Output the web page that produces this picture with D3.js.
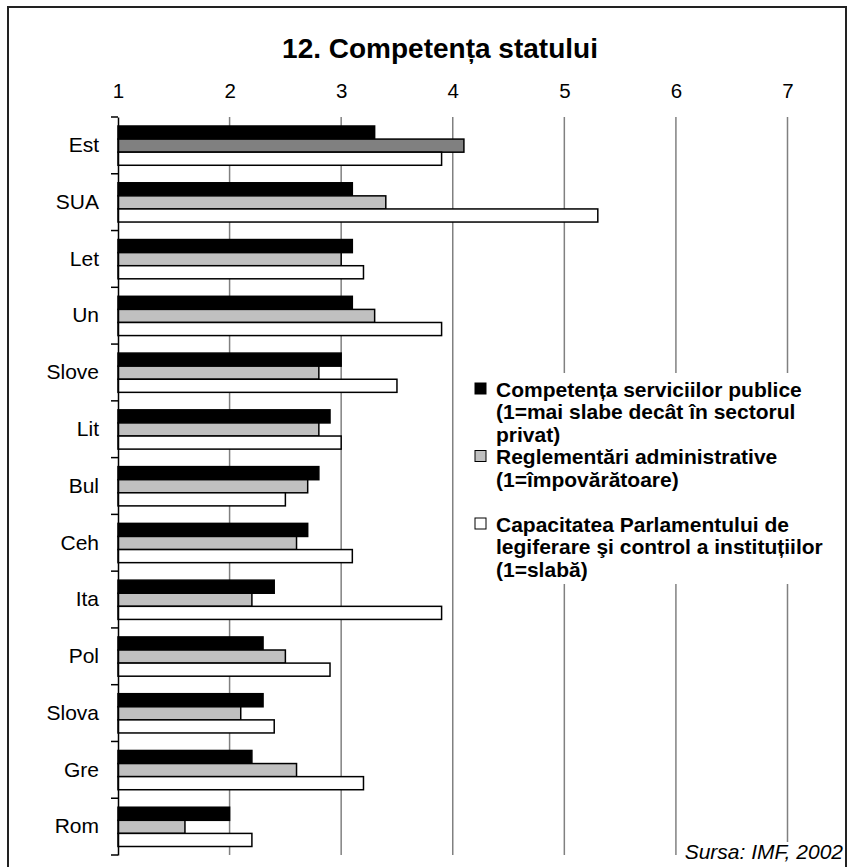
<!DOCTYPE html>
<html>
<head>
<meta charset="utf-8">
<script src="https://cdn.jsdelivr.net/npm/d3@7"></script>
<style>
  html, body { margin: 0; padding: 0; background: #fff; }
  svg { display: block; font-family: "Liberation Sans", Arial, sans-serif; }
</style>
</head>
<body>
<svg id="chart" width="849" height="867"></svg>
<script>
// ---- data ----
const categories = ["Est", "SUA", "Let", "Un", "Slove", "Lit", "Bul", "Ceh", "Ita", "Pol", "Slova", "Gre", "Rom"];
const competentaServicii = [3.3, 3.1, 3.1, 3.1, 3.0, 2.9, 2.8, 2.7, 2.4, 2.3, 2.3, 2.2, 2.0];
const reglementari =       [4.1, 3.4, 3.0, 3.3, 2.8, 2.8, 2.7, 2.6, 2.2, 2.5, 2.1, 2.6, 1.6];
const capacitateParlament =[3.9, 5.3, 3.2, 3.9, 3.5, 3.0, 2.5, 3.1, 3.9, 2.9, 2.4, 3.2, 2.2];
const tickValues = [1, 2, 3, 4, 5, 6, 7];
const legendLines = [
  ["Competența serviciilor publice", "(1=mai slabe decât în sectorul", "privat)"],
  ["Reglementări administrative", "(1=împovărătoare)"],
  ["Capacitatea Parlamentului de", "legiferare şi control a instituțiilor", "(1=slabă)"]
];
const title = "12. Competența statului";
const source = "Sursa: IMF, 2002";

const seriesFill = ["#000000", "#c0c0c0", "#ffffff"];
const highlightFill = "#808080"; // Est, second series

const svg = d3.select("#chart");

// frame
svg.append("rect").attr("x", 8).attr("y", 7).attr("width", 838).attr("height", 870)
  .attr("fill", "#fff").attr("stroke", "#222").attr("stroke-width", 2);

const x = d3.scaleLinear().domain([1, 7]).range([118, 787.5]);
const y = d3.scaleBand().domain(categories).range([117, 855]).paddingInner(0).paddingOuter(0);
const ySub = d3.scaleBand().domain([0, 1, 2]).range([9, y.bandwidth() - 8.5]).padding(0);

// title
svg.append("text").attr("x", 440).attr("y", 58).attr("text-anchor", "middle")
  .attr("font-size", 28).attr("font-weight", "bold").text(title);

// gridlines
svg.append("g").selectAll("line").data(tickValues.slice(1)).join("line")
  .attr("x1", d => x(d)).attr("x2", d => x(d))
  .attr("y1", 117).attr("y2", 855)
  .attr("stroke", "#808080").attr("stroke-width", 1.5);

// top tick labels
const xAxis = d3.axisTop(x).tickValues(tickValues).tickSize(0).tickPadding(0).tickFormat(d3.format("d"));
const gx = svg.append("g").attr("transform", "translate(0,98)").call(xAxis);
gx.select(".domain").remove();
gx.selectAll("text").attr("dy", 0).attr("font-size", 20.5).attr("fill", "#000")
  .attr("font-family", "Liberation Sans, Arial, sans-serif");

// bars
const rows = categories.map((c, i) => ({ c, vals: [competentaServicii[i], reglementari[i], capacitateParlament[i]] }));
const groups = svg.append("g").selectAll("g").data(rows).join("g")
  .attr("transform", d => `translate(0,${y(d.c)})`);
groups.selectAll("rect").data(d => d.vals.map((v, k) => ({ v, k, c: d.c }))).join("rect")
  .attr("x", x(1))
  .attr("y", d => ySub(d.k))
  .attr("width", d => x(d.v) - x(1))
  .attr("height", ySub.bandwidth())
  .attr("fill", d => (d.c === "Est" && d.k === 1) ? highlightFill : seriesFill[d.k])
  .attr("stroke", "#000").attr("stroke-width", 1.5);

// y axis
const yAxis = d3.axisLeft(y).tickSize(0).tickPadding(19);
const gy = svg.append("g").attr("transform", `translate(${x(1)},0)`).call(yAxis);
gy.select(".domain").attr("stroke", "#000").attr("stroke-width", 1.5);
gy.selectAll("text").attr("font-size", 21).attr("fill", "#000")
  .attr("font-family", "Liberation Sans, Arial, sans-serif");
// boundary ticks
const bounds = categories.map(c => y(c)).concat([y.range()[1]]);
svg.append("g").selectAll("line").data(bounds).join("line")
  .attr("x1", x(1) - 7).attr("x2", x(1)).attr("y1", d => d).attr("y2", d => d)
  .attr("stroke", "#000").attr("stroke-width", 1.5);

// legend
const lg = svg.append("g");
lg.append("rect").attr("x", 468).attr("y", 373).attr("width", 372).attr("height", 211).attr("fill", "#fff");
const lineH = 22.5;
const blockStart = [0, 3, 6];
legendLines.forEach((lines, k) => {
  const cy0 = 389 + blockStart[k] * lineH;
  lg.append("rect").attr("x", 475).attr("y", cy0 - 6).attr("width", 11).attr("height", 11)
    .attr("fill", seriesFill[k]).attr("stroke", "#000").attr("stroke-width", 1);
  lines.forEach((t, j) => {
    lg.append("text").attr("x", 496).attr("y", cy0 + j * lineH + 7.5)
      .attr("font-size", 21).attr("font-weight", "bold").text(t);
  });
});

// source
svg.append("rect").attr("x", 679).attr("y", 842).attr("width", 166).attr("height", 25).attr("fill", "#fff");
svg.append("text").attr("x", 843).attr("y", 859).attr("text-anchor", "end")
  .attr("font-size", 21).attr("font-style", "italic").text(source);
</script>
</body>
</html>
